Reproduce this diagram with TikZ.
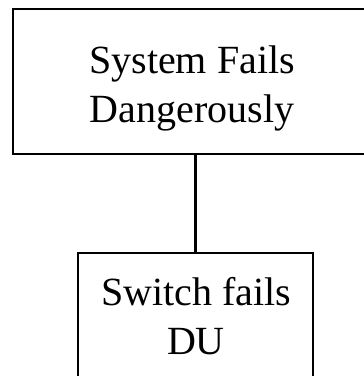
\documentclass[tikz,border=0pt]{standalone}
\usepackage{fontspec}
\setmainfont{Liberation Serif}
\begin{document}
\begin{tikzpicture}[x=1pt,y=-1pt,
  box/.style={draw=black, line width=2.6pt, rectangle, inner sep=0pt},
  lbl/.style={align=center, inner sep=0pt, font=\fontsize{40}{49}\selectfont, text=black}]
\clip (0,0) rectangle (364,376);
\node[box, minimum width=377pt, minimum height=145pt] (top) at (201.5,81.5) {};
\node[lbl] (toptext) at (192,88.2) {System Fails\\Dangerously};
\node[box, minimum width=235pt, minimum height=150pt] (bot) at (195.5,328) {};
\node[lbl] (bottext) at (196,316.5) {Switch fails\\DU};
\draw[line width=2.6pt] (top.south -| bot.north) -- (bot.north);
\end{tikzpicture}
\end{document}
